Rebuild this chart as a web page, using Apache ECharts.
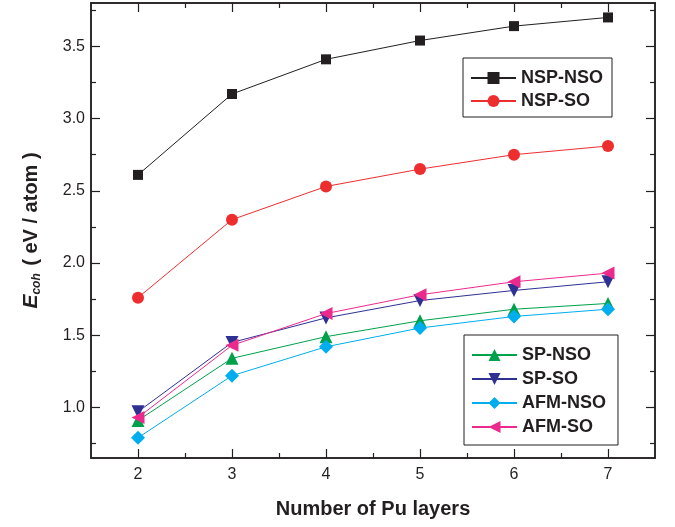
<!DOCTYPE html>
<html>
<head>
<meta charset="utf-8">
<script src="https://cdn.jsdelivr.net/npm/echarts@6/dist/echarts.min.js"></script>
<style>html,body{margin:0;padding:0;background:#fff}#c{width:675px;height:527px}</style>
</head>
<body>
<div id="c"></div>
<script>
// ---- data ----
const layers = [2, 3, 4, 5, 6, 7];
const nspNso = [2.61, 3.17, 3.41, 3.54, 3.64, 3.70];
const nspSo  = [1.76, 2.30, 2.53, 2.65, 2.75, 2.81];
const spNso  = [0.91, 1.34, 1.49, 1.60, 1.68, 1.72];
const spSo   = [0.97, 1.45, 1.62, 1.74, 1.81, 1.87];
const afmNso = [0.79, 1.22, 1.42, 1.55, 1.63, 1.68];
const afmSo  = [0.93, 1.43, 1.65, 1.78, 1.87, 1.93];
const xTicks = [2, 3, 4, 5, 6, 7];
const xMinorTicks = [2.5, 3.5, 4.5, 5.5, 6.5];
const yTicks = [1.0, 1.5, 2.0, 2.5, 3.0, 3.5];
const yMinorTicks = [0.75, 1.25, 1.75, 2.25, 2.75, 3.25, 3.75];

const pair = ys => layers.map((x, i) => [x, ys[i]]);
const INK = '#231f20';
const FONT = '"Liberation Sans", Arial, Helvetica, sans-serif';

function xAx(pos, minor, withLabels) {
  return {
    type: 'value', position: pos, min: 1.5, max: 7.5,
    axisLine: { show: true, onZero: false, lineStyle: { color: INK, width: 1.5 } },
    axisTick: { show: true, inside: true, length: minor ? 5 : 9, customValues: minor ? xMinorTicks : xTicks,
                lineStyle: { color: INK, width: 1.2 } },
    axisLabel: withLabels ? { show: true, customValues: xTicks, margin: 9, color: INK, fontSize: 16, fontFamily: FONT } : { show: false },
    splitLine: { show: false },
    name: withLabels ? 'Number of Pu layers' : '',
    nameLocation: 'middle', nameGap: 41,
    nameTextStyle: { color: INK, fontSize: 20, fontWeight: 'bold', fontFamily: FONT }
  };
}
function yAx(pos, minor, withLabels) {
  return {
    type: 'value', position: pos, min: 0.65, max: 3.8,
    axisLine: { show: true, onZero: false, lineStyle: { color: INK, width: 1.5 } },
    axisTick: { show: true, inside: true, length: minor ? 5 : 9, customValues: minor ? yMinorTicks : yTicks,
                lineStyle: { color: INK, width: 1.2 } },
    axisLabel: withLabels ? { show: true, customValues: yTicks, margin: 6, color: INK, fontSize: 16, fontFamily: FONT,
                formatter: v => Number(v).toFixed(1) } : { show: false },
    splitLine: { show: false },
    name: withLabels ? '{e|E}{s|coh}{t| ( eV / atom )}' : '',
    nameLocation: 'middle', nameGap: 48, nameRotate: 90,
    nameTextStyle: { color: INK, fontSize: 20, fontWeight: 'bold', fontFamily: FONT,
      rich: {
        e: { fontSize: 21, fontWeight: 'bold', fontStyle: 'italic', color: INK, fontFamily: FONT },
        s: { fontSize: 12, fontWeight: 'bold', fontStyle: 'italic', color: INK, fontFamily: FONT, padding: [12, 2, 0, 0] },
        t: { fontSize: 20, fontWeight: 'bold', color: INK, fontFamily: FONT }
      } }
  };
}

function ser(name, data, color, symbol, size, rotate) {
  return {
    name, type: 'line', xAxisIndex: 0, yAxisIndex: 0,
    data: pair(data), symbol, symbolSize: size, symbolRotate: rotate || 0,
    showSymbol: true, animation: false,
    lineStyle: { color, width: 1 },
    itemStyle: { color, borderWidth: 0 }
  };
}

const legendText = { color: INK, fontSize: 18, fontWeight: 'bold', fontFamily: FONT };

const chart = echarts.init(document.getElementById('c'), null, { renderer: 'canvas' });
chart.setOption({
  backgroundColor: '#fff',
  animation: false,
  grid: { left: 91, right: 20, top: 3, bottom: 69, containLabel: false, outerBoundsMode: 'none' },
  xAxis: [xAx('bottom', false, true), xAx('bottom', true, false), xAx('top', false, false), xAx('top', true, false)],
  yAxis: [yAx('left', false, true), yAx('left', true, false), yAx('right', false, false), yAx('right', true, false)],
  legend: [
    { data: ['NSP-NSO', 'NSP-SO'], orient: 'vertical', left: 463, top: 58,
      itemWidth: 45, itemHeight: 15, itemGap: 5, padding: [11, 9, 7, 7],
      borderColor: INK, borderWidth: 1, textStyle: legendText, selectedMode: false },
    { data: ['SP-NSO', 'SP-SO', 'AFM-NSO', 'AFM-SO'], orient: 'vertical', left: 464, top: 335,
      itemWidth: 45, itemHeight: 15, itemGap: 6, padding: [11, 12, 9, 7],
      borderColor: INK, borderWidth: 1, textStyle: legendText, selectedMode: false }
  ],
  series: [
    ser('NSP-NSO', nspNso, '#231f20', 'rect', 10),
    ser('NSP-SO', nspSo, '#ee2d2f', 'circle', 12),
    ser('SP-NSO', spNso, '#00a14b', 'triangle', 13),
    ser('SP-SO', spSo, '#2e3192', 'triangle', 13, 180),
    ser('AFM-NSO', afmNso, '#00aeef', 'diamond', 14),
    ser('AFM-SO', afmSo, '#ec2a8e', 'triangle', 13, 90)
  ]
});
</script>
</body>
</html>
